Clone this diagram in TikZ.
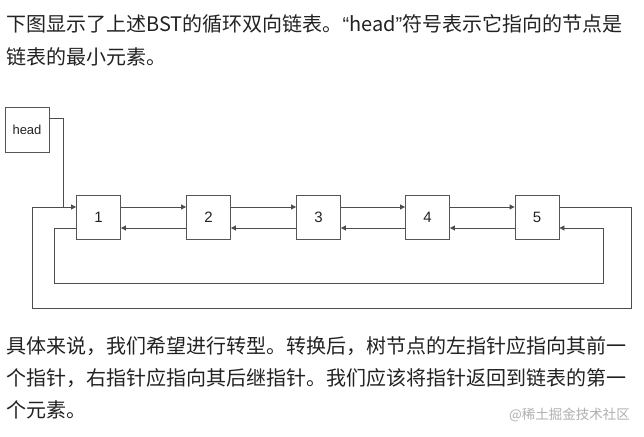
\documentclass[tikz,border=0pt]{standalone}
\usepackage{fontspec}
\setmainfont{Noto Sans CJK SC}
\newfontfamily\hv{Liberation Sans}
\usetikzlibrary{arrows.meta}
\definecolor{txt}{HTML}{222222}
\definecolor{boxc}{HTML}{555555}
\definecolor{linec}{HTML}{4D4D4D}
\definecolor{wm}{HTML}{B0B0B0}
\begin{document}
\begin{tikzpicture}[x=1pt,y=-1pt,
  box/.style={draw=boxc, line width=0.9pt, minimum width=44pt, minimum height=44pt, inner sep=0pt, font=\hv\fontsize{15}{15}\selectfont, text=txt},
  link/.style={draw=linec, line width=0.9pt},
  arr/.style={link, -{Triangle[length=5pt,width=5pt]}},
  para/.style={anchor=west, inner sep=0pt, font=\fontsize{20}{20}\selectfont, text=txt}]
\useasboundingbox[fill=white] (0,0) rectangle (644,436);
% text
\node[para] (t1) at (6,24) {下图显示了上述BST的循环双向链表。{\hv“}head{\hv”}符号表示它指向的节点是};
\node[para] (t2) at (6,57) {链表的最小元素。};
\node[para] (b1) at (6,346) {具体来说，我们希望进行转型。转换后，树节点的左指针应指向其前一};
\node[para] (b2) at (6,378) {个指针，右指针应指向其后继指针。我们应该将指针返回到链表的第一};
\node[para] (b3) at (6,410) {个元素。};
\node[anchor=east, inner sep=0pt, font=\fontsize{13.5}{13.5}\selectfont, text=wm] (wmk) at (630,415) {@稀土掘金技术社区};
% nodes
\node[box, minimum height=45pt, font=\hv\fontsize{13}{13}\selectfont] (head) at (27,129.5) {head};
\node[box] (n1) at (98.5,217.5) {1};
\node[box] (n2) at (208.5,217.5) {2};
\node[box] (n3) at (318.5,217.5) {3};
\node[box] (n4) at (427.5,217.5) {4};
\node[box] (n5) at (537,217.5) {5};
% coordinates
\coordinate (j) at (63,207);
\coordinate (oR) at (631,308);
\coordinate (oL) at (32,308);
\coordinate (iL) at (54,283);
\coordinate (iR) at (603,283);
% forward / backward
\foreach \a/\b in {n1/n2,n2/n3,n3/n4,n4/n5}{
  \draw[arr] ([yshift=10.5pt]\a.east) -- ([yshift=10.5pt]\b.west);
  \draw[arr] ([yshift=-10.5pt]\b.west) -- ([yshift=-10.5pt]\a.east);
}
% head pointer
\draw[link] ([yshift=11.5pt]head.east) -| (j);
% outer loop
\draw[arr] ([yshift=10.5pt]n5.east) -| (oR) -- (oL) |- ([yshift=10.5pt]n1.west);
% inner loop
\draw[arr] ([yshift=-10.5pt]n1.west) -| (iL) -- (iR) |- ([yshift=-10.5pt]n5.east);
\end{tikzpicture}
\end{document}
